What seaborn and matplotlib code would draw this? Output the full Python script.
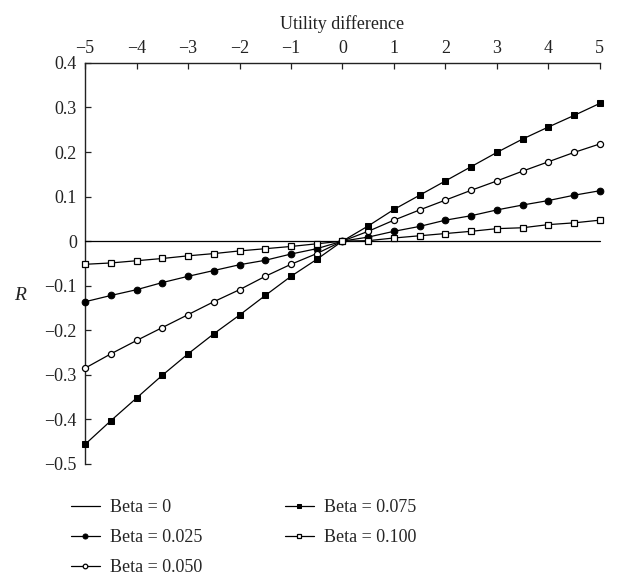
import matplotlib
matplotlib.use("Agg")
import matplotlib.pyplot as plt
import seaborn as sns
import numpy as np

utility = [-5, -4.5, -4, -3.5, -3, -2.5, -2, -1.5, -1, -0.5, 0,
           0.5, 1, 1.5, 2, 2.5, 3, 3.5, 4, 4.5, 5]

beta_0 = [0.0] * 21
beta_025 = [-0.136, -0.122, -0.109, -0.093, -0.079, -0.066, -0.053, -0.043, -0.029, -0.017, 0.0,
            0.009, 0.022, 0.033, 0.047, 0.057, 0.070, 0.081, 0.091, 0.103, 0.113]
beta_050 = [-0.285, -0.253, -0.223, -0.194, -0.165, -0.136, -0.109, -0.079, -0.052, -0.028, 0.0,
            0.022, 0.047, 0.070, 0.092, 0.114, 0.135, 0.157, 0.178, 0.199, 0.218]
beta_075 = [-0.456, -0.403, -0.352, -0.301, -0.253, -0.208, -0.166, -0.122, -0.079, -0.041, 0.0,
            0.034, 0.071, 0.103, 0.135, 0.167, 0.199, 0.229, 0.256, 0.282, 0.309]
beta_100 = [-0.052, -0.049, -0.044, -0.039, -0.033, -0.028, -0.022, -0.017, -0.012, -0.006, 0.0,
            0.001, 0.007, 0.012, 0.017, 0.022, 0.028, 0.030, 0.037, 0.041, 0.047]

labels = ["Beta = 0", "Beta = 0.025", "Beta = 0.050", "Beta = 0.075", "Beta = 0.100"]

xticks = [-5, -4, -3, -2, -1, 0, 1, 2, 3, 4, 5]
xtick_labels = ["\u22125", "\u22124", "\u22123", "\u22122", "\u22121", "0", "1", "2", "3", "4", "5"]
yticks = [-0.5, -0.4, -0.3, -0.2, -0.1, 0, 0.1, 0.2, 0.3, 0.4]
ytick_labels = ["\u22120.5", "\u22120.4", "\u22120.3", "\u22120.2", "\u22120.1", "0", "0.1", "0.2", "0.3", "0.4"]

sns.set_theme(style="white")
plt.rcParams['font.family'] = ['Liberation Serif', 'DejaVu Serif']

fig = plt.figure(figsize=(6.17, 5.77), dpi=100)
ax = fig.add_axes([0.138, 0.196, 0.834, 0.695])

styles = [
    dict(marker=None),
    dict(marker='o', markersize=4.8, markerfacecolor='black', markeredgecolor='black'),
    dict(marker='o', markersize=4.4, markerfacecolor='white', markeredgecolor='black', markeredgewidth=0.9),
    dict(marker='s', markersize=4.6, markerfacecolor='black', markeredgecolor='black'),
    dict(marker='s', markersize=4.6, markerfacecolor='white', markeredgecolor='black', markeredgewidth=0.9),
]
series = [beta_0, beta_025, beta_050, beta_075, beta_100]
for vals, lab, st in zip(series, labels, styles):
    kw = dict(st)
    if kw['marker'] is None:
        kw.pop('marker')
    sns.lineplot(x=utility, y=vals, ax=ax, color='black', linewidth=0.9,
                 label=lab, clip_on=False, zorder=3, **kw)

ax.set_xlim(-5, 5)
ax.set_ylim(-0.5, 0.4)
ax.xaxis.tick_top()
ax.xaxis.set_label_position('top')
ax.set_xticks(xticks)
ax.set_xticklabels(xtick_labels)
ax.set_yticks(yticks)
ax.set_yticklabels(ytick_labels)
ax.tick_params(axis='both', direction='in', length=4, width=0.9, colors='#222222',
               labelsize=13, labelcolor='#222222')
ax.tick_params(axis='x', top=True, bottom=False, pad=4)
ax.tick_params(axis='y', left=True, right=False, pad=6)

for side in ['right', 'bottom']:
    ax.spines[side].set_visible(False)
for side in ['left', 'top']:
    ax.spines[side].set_color('#222222')
    ax.spines[side].set_linewidth(1.0)

ax.set_xlabel("Utility difference", fontsize=13, color='#222222', labelpad=8)
ax.set_ylabel("")
ax.text(-0.126, 0.42, "R", transform=ax.transAxes, fontsize=14, style='italic',
        ha='center', va='center', color='#222222')

ax.legend(loc='upper left', bbox_to_anchor=(-0.042, -0.07), ncol=2, frameon=False,
          fontsize=13, handlelength=1.6, handletextpad=0.55, columnspacing=4.6,
          labelspacing=0.72, borderaxespad=0, markerscale=0.75)

fig.savefig("out.png", dpi=100)
